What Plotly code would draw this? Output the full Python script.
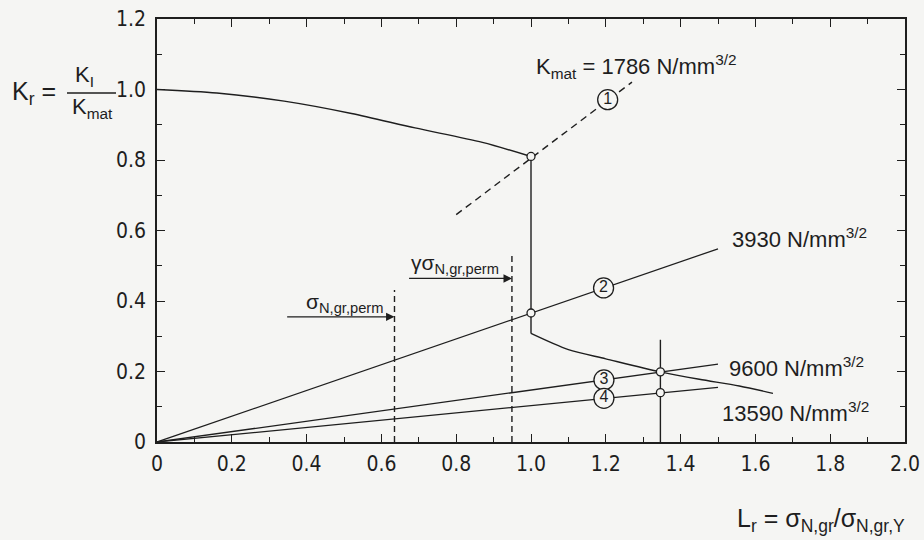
import plotly.graph_objects as go

# ---------------- data ----------------
fad_upper_lr = [0.0, 0.16, 0.34, 0.52, 0.69, 0.87, 1.0]
fad_upper_kr = [1.0, 0.99, 0.967, 0.932, 0.891, 0.85, 0.81]
fad_lower_lr = [1.0, 1.1, 1.2, 1.346, 1.45, 1.557, 1.647]
fad_lower_kr = [0.308, 0.262, 0.236, 0.199, 0.178, 0.159, 0.138]

# loading lines through the origin
line1_lr = [0.80, 1.27]          # dashed, Kmat = 1786
line1_kr = [0.645, 1.021]
line_end_lr = [1.5, 1.5, 1.5]     # lines 2, 3, 4
line_end_kr = [0.548, 0.221, 0.155]
line_names = ["3930", "9600", "13590"]

# intersection points (open circles)
cross_lr = [1.0, 1.0, 1.346, 1.346]
cross_kr = [0.81, 0.366, 0.199, 0.140]

# numbered circles
num_labels = ["1", "2", "3", "4"]
num_lr = [1.205, 1.194, 1.195, 1.195]
num_kr = [0.971, 0.437, 0.176, 0.124]

# vertical lines
vline_solid_lr = 1.346
vline_solid_top = 0.29
perm_lr = [0.635, 0.949]
perm_top = [0.431, 0.536]

x_ticks = [0, 0.2, 0.4, 0.6, 0.8, 1.0, 1.2, 1.4, 1.6, 1.8, 2.0]
x_ticktext = ["0", "0.2", "0.4", "0.6", "0.8", "1.0", "1.2", "1.4", "1.6", "1.8", "2.0"]
y_ticks = [0, 0.2, 0.4, 0.6, 0.8, 1.0, 1.2]
y_ticktext = ["0", "0.2", "0.4", "0.6", "0.8", "1.0", "1.2"]

# ---------------- styling ----------------
INK = "#1e1e1e"
BG = "#f5f5f3"
LW = 1.4
FONT = "Liberation Sans, Arial, sans-serif"
TICKFONT = "Liberation Sans Narrow, DejaVu Sans Condensed, Arial Narrow, sans-serif"

W, H = 924, 540
ML, MR, MT, MB = 157, 19, 19, 98
PW, PH = W - ML - MR, H - MT - MB


def px(xp):
    return (xp - ML) / PW


def py(yp):
    return (H - MB - yp) / PH


fig = go.Figure()

# failure assessment curve: upper branch, vertical drop, lower branch
fig.add_trace(go.Scatter(x=fad_upper_lr, y=fad_upper_kr, mode="lines",
                         line=dict(color=INK, width=LW, shape="spline", smoothing=0.8),
                         hoverinfo="skip", showlegend=False))
fig.add_trace(go.Scatter(x=[fad_upper_lr[-1], fad_lower_lr[0]],
                         y=[fad_upper_kr[-1], fad_lower_kr[0]], mode="lines",
                         line=dict(color=INK, width=LW),
                         hoverinfo="skip", showlegend=False))
fig.add_trace(go.Scatter(x=fad_lower_lr, y=fad_lower_kr, mode="lines",
                         line=dict(color=INK, width=LW, shape="spline", smoothing=0.8),
                         hoverinfo="skip", showlegend=False))

# dashed load line 1
fig.add_trace(go.Scatter(x=line1_lr, y=line1_kr, mode="lines",
                         line=dict(color=INK, width=LW, dash="7px,5px"),
                         hoverinfo="skip", showlegend=False))

# load lines 2..4 from origin
for lr, kr in zip(line_end_lr, line_end_kr):
    fig.add_trace(go.Scatter(x=[0, lr], y=[0, kr], mode="lines",
                             line=dict(color=INK, width=LW * 0.9),
                             hoverinfo="skip", showlegend=False))

# vertical solid line at Lr = 1.346
fig.add_trace(go.Scatter(x=[vline_solid_lr, vline_solid_lr], y=[0, vline_solid_top],
                         mode="lines", line=dict(color=INK, width=LW),
                         hoverinfo="skip", showlegend=False))

# dashed permissible lines
for lr, top in zip(perm_lr, perm_top):
    fig.add_trace(go.Scatter(x=[lr, lr], y=[0, top], mode="lines",
                             line=dict(color=INK, width=LW, dash="6px,4px"),
                             hoverinfo="skip", showlegend=False))

# numbered circles
fig.add_trace(go.Scatter(
    x=num_lr, y=num_kr, mode="markers+text", text=num_labels,
    textposition="middle center",
    textfont=dict(family=FONT, size=16, color=INK),
    marker=dict(size=20, color=BG, line=dict(color=INK, width=1.3)),
    hoverinfo="skip", showlegend=False))

# intersection open circles
fig.add_trace(go.Scatter(
    x=cross_lr, y=cross_kr, mode="markers",
    marker=dict(size=8, color=BG, line=dict(color=INK, width=1.3)),
    hoverinfo="skip", showlegend=False))

unit = " N/mm<sup>3/2</sup>"
ann = []
ann.append(dict(x=1.009, y=1.064, xref="x", yref="y", xanchor="left", yanchor="middle",
                text="K<sub>mat</sub> = 1786" + unit, showarrow=False,
                font=dict(family=FONT, size=22, color=INK)))
label_pos = [(1.531, 0.579), (1.523, 0.213), (1.504, 0.085)]
for name, (lx, ly) in zip(line_names, label_pos):
    ann.append(dict(x=lx, y=ly, xref="x", yref="y", xanchor="left", yanchor="middle",
                    text=name + unit, showarrow=False,
                    font=dict(family=FONT, size=22, color=INK)))

# sigma labels with arrows
ann.append(dict(x=0.394, y=0.395, xref="x", yref="y", xanchor="left", yanchor="middle",
                text="σ<sub>N,gr,perm</sub>", showarrow=False,
                font=dict(family=FONT, size=21, color=INK)))
ann.append(dict(x=perm_lr[0], y=0.355, ax=0.344, ay=0.355, xref="x", yref="y",
                axref="x", ayref="y", text="", showarrow=True, arrowhead=2,
                arrowsize=1.3, arrowwidth=1.3, arrowcolor=INK))
ann.append(dict(x=0.675, y=0.505, xref="x", yref="y", xanchor="left", yanchor="middle",
                text="γσ<sub>N,gr,perm</sub>", showarrow=False,
                font=dict(family=FONT, size=21, color=INK)))
ann.append(dict(x=perm_lr[1], y=0.464, ax=0.670, ay=0.464, xref="x", yref="y",
                axref="x", ayref="y", text="", showarrow=True, arrowhead=2,
                arrowsize=1.3, arrowwidth=1.3, arrowcolor=INK))

# y-axis title as a fraction
ann.append(dict(x=px(34), y=py(93), xref="paper", yref="paper",
                xanchor="center", yanchor="middle", text="K<sub>r</sub> =",
                showarrow=False, font=dict(family=FONT, size=25, color=INK)))
ann.append(dict(x=px(84), y=py(76), xref="paper", yref="paper",
                xanchor="center", yanchor="middle", text="K<sub>I</sub>",
                showarrow=False, font=dict(family=FONT, size=22, color=INK)))
ann.append(dict(x=px(92), y=py(108), xref="paper", yref="paper",
                xanchor="center", yanchor="middle", text="K<sub>mat</sub>",
                showarrow=False, font=dict(family=FONT, size=22, color=INK)))
# x-axis title
ann.append(dict(x=px(907), y=py(520), xref="paper", yref="paper",
                xanchor="right", yanchor="middle",
                text="L<sub>r</sub> = σ<sub>N,gr</sub>/σ<sub>N,gr,Y</sub>",
                showarrow=False, font=dict(family=FONT, size=25, color=INK)))

shapes = [dict(type="line", xref="paper", yref="paper",
               x0=px(67), x1=px(116), y0=py(93), y1=py(93),
               line=dict(color=INK, width=1.4))]

axis_common = dict(
    showgrid=False, zeroline=False, showline=True, linecolor=INK, linewidth=1.5,
    mirror="allticks", ticks="inside", ticklen=8, tickwidth=1.3, tickcolor=INK,
    tickfont=dict(family=TICKFONT, size=21, color=INK), automargin=False,
    minor=dict(ticks="inside", ticklen=5, tickwidth=1.2, tickcolor=INK, dtick=0.1),
)

fig.update_layout(
    width=W, height=H,
    margin=dict(l=ML, r=MR, t=MT, b=MB, autoexpand=False),
    paper_bgcolor=BG, plot_bgcolor=BG,
    xaxis=dict(range=[0, 2.0], tickmode="array", tickvals=x_ticks, ticktext=x_ticktext,
               ticklabelstandoff=2, **axis_common),
    yaxis=dict(range=[0, 1.2], tickmode="array", tickvals=y_ticks, ticktext=y_ticktext,
               ticklabelstandoff=5, **axis_common),
    annotations=ann, shapes=shapes, showlegend=False,
)

fig.write_html(
    "out.html",
    config={"displayModeBar": False},
    post_script="document.body.style.margin='0';document.body.style.background='#f5f5f3';"
                "document.body.style.overflow='hidden';",
)
